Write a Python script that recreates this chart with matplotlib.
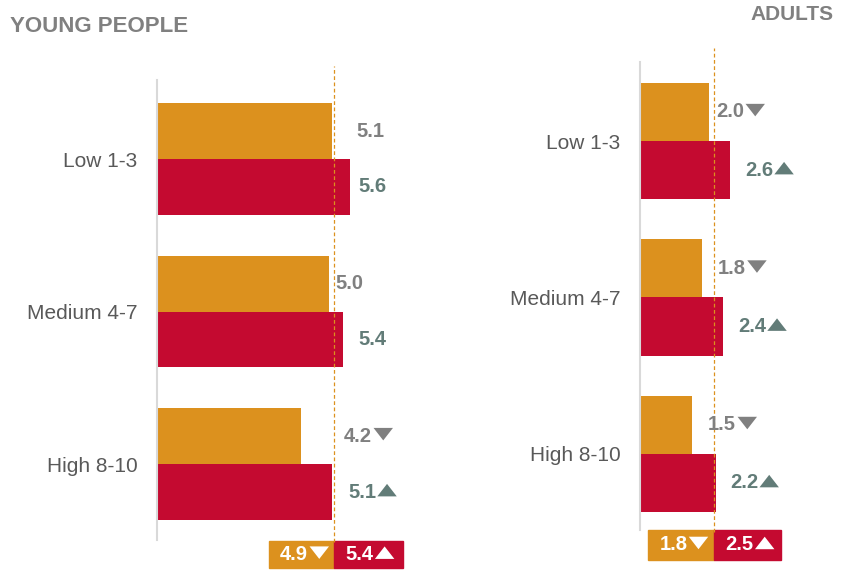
import matplotlib.pyplot as plt
from matplotlib.patches import Rectangle, Polygon
from matplotlib.offsetbox import DrawingArea, AnnotationBbox

plt.rcParams['font.family'] = ['Liberation Sans', 'DejaVu Sans']

# data
categories = ['Low 1-3', 'Medium 4-7', 'High 8-10']
young_a = [5.1, 5.0, 4.2]
young_b = [5.6, 5.4, 5.1]
young_a_lbl = ['5.1', '5.0', '4.2']
young_b_lbl = ['5.6', '5.4', '5.1']
young_a_arr = ['', '', 'down']
young_b_arr = ['', '', 'up']
young_a_pos = [5.81, 5.20, 5.44]
young_b_pos = [5.84, 5.84, 5.55]
young_ref = 5.15
young_tot = ['4.9', '5.4']

adult_a = [2.0, 1.8, 1.5]
adult_b = [2.6, 2.4, 2.2]
adult_a_lbl = ['2.0', '1.8', '1.5']
adult_b_lbl = ['2.6', '2.4', '2.2']
adult_a_arr = ['down', 'down', 'down']
adult_b_arr = ['up', 'up', 'up']
adult_a_pos = [2.20, 2.25, 1.97]
adult_b_pos = [3.03, 2.83, 2.60]
adult_ref = 2.14
adult_tot = ['1.8', '2.5']

ORANGE = '#dc911e'
RED = '#c40a30'
GRAY = '#808080'
TEAL = '#627c78'

W, H = 846, 570
fig = plt.figure(figsize=(W / 100, H / 100), dpi=100)


def px_axes(x0, y0, x1, y1):
    return fig.add_axes([x0 / W, 1 - y1 / H, (x1 - x0) / W, (y1 - y0) / H])


def triangle(ax, t, kind, color):
    # flat triangle drawn right after the number text
    w, h = 14, 9
    da = DrawingArea(w + 1, h, 0, 0)
    if kind == 'down':
        pts = [(1, h), (w + 1, h), (1 + w / 2, 0)]
    else:
        pts = [(1, 0), (w + 1, 0), (1 + w / 2, h)]
    da.add_artist(Polygon(pts, closed=True, color=color, lw=0))
    ab = AnnotationBbox(da, (1, 0.6), xycoords=t, box_alignment=(0, 0.5),
                        frameon=False, pad=0, annotation_clip=False)
    ax.add_artist(ab)


def label(ax, x, y, num, arrow, color):
    t = ax.text(x, y, num, ha='left', va='center', fontsize=14.5,
                fontweight='bold', color=color, clip_on=False)
    if arrow:
        triangle(ax, t, arrow, color)
    return t


def panel(ax, a, b, alab, blab, aarr, barr, apos, bpos, ref, tot, xmax, top, bot, bh,
          box_w, box_y, box_h):
    idx = list(range(len(categories)))
    ax.barh([i - bh / 2 for i in idx], a, height=bh, color=ORANGE)
    ax.barh([i + bh / 2 for i in idx], b, height=bh, color=RED)
    for i in idx:
        label(ax, apos[i], i - bh / 2, alab[i], aarr[i], GRAY)
        label(ax, bpos[i], i + bh / 2, blab[i], barr[i], TEAL)
    ax.set_xlim(0, xmax)
    ax.set_ylim(bot, top)
    ax.axvline(ref, color=ORANGE, lw=0.9, ls=(0, (3, 2)), ymin=-0.005, ymax=1.03, clip_on=False)
    ax.set_yticks(idx)
    ax.set_yticklabels(categories, fontsize=15, color='#595959')
    ax.tick_params(axis='y', length=0, pad=14)
    ax.set_xticks([])
    for s in ['top', 'right', 'bottom']:
        ax.spines[s].set_visible(False)
    ax.spines['left'].set_color('#d9d9d9')
    ax.spines['left'].set_linewidth(1.5)
    # summary boxes
    ax.add_patch(Rectangle((ref - box_w[0], box_y), box_w[0], box_h, color=ORANGE, clip_on=False))
    ax.add_patch(Rectangle((ref, box_y), box_w[1], box_h, color=RED, clip_on=False))
    yc = box_y + box_h / 2
    label(ax, ref - box_w[0] + 0.33, yc, tot[0], 'down', 'white')
    label(ax, ref + 0.33, yc, tot[1], 'up', 'white')


ax1 = px_axes(157, 80, 420, 540)
panel(ax1, young_a, young_b, young_a_lbl, young_b_lbl, young_a_arr, young_b_arr,
      young_a_pos, young_b_pos, young_ref, young_tot, 263 / 34.4, -0.518, 2.498, 0.367,
      (1.9, 2.0), 2.505, 0.177)

ax2 = px_axes(640, 62, 840, 530)
panel(ax2, adult_a, adult_b, adult_a_lbl, adult_b_lbl, adult_a_arr, adult_b_arr,
      adult_a_pos, adult_b_pos, adult_ref, adult_tot, 200 / 34.6, -0.505, 2.486, 0.371,
      (1.91, 1.94), 2.486, 0.19)

fig.text(10 / W, 1 - 26 / H, 'YOUNG PEOPLE', fontsize=16, fontweight='bold',
         color=GRAY, ha='left', va='center')
fig.text(834 / W, 1 - 15 / H, 'ADULTS', fontsize=15, fontweight='bold',
         color=GRAY, ha='right', va='center')

fig.savefig('out.png', dpi=100)
